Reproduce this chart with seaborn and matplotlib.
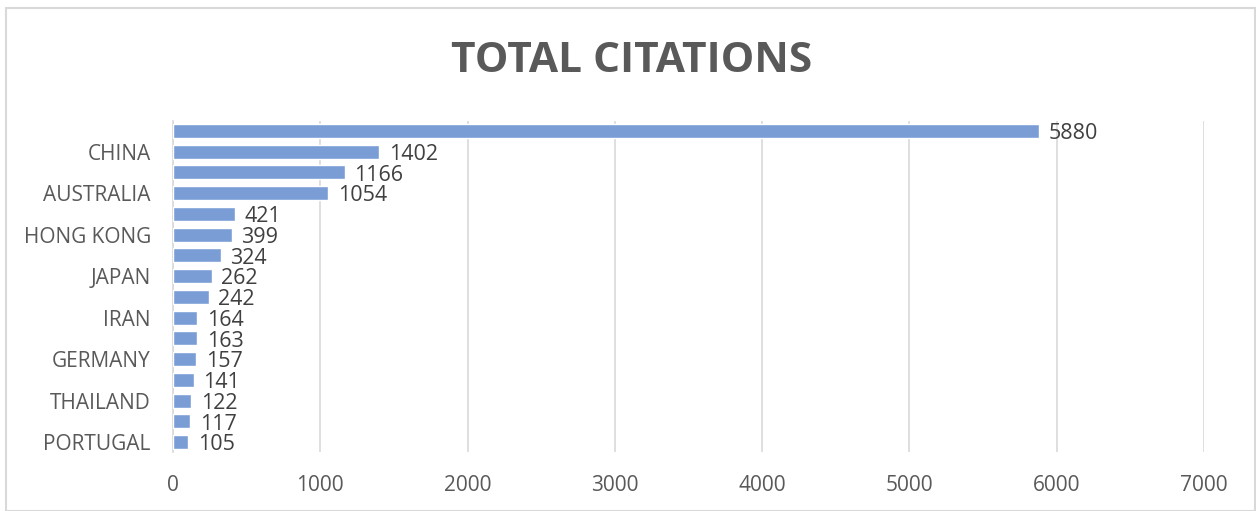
import matplotlib
matplotlib.use("Agg")
import matplotlib.pyplot as plt
import seaborn as sns
import pandas as pd
from matplotlib.patches import Rectangle

# Data (top to bottom); only every other category label is shown in the chart
rank = [str(i) for i in range(1, 17)]
tick_labels = ["", "CHINA", "", "AUSTRALIA", "", "HONG KONG", "", "JAPAN",
               "", "IRAN", "", "GERMANY", "", "THAILAND", "", "PORTUGAL"]
citations = [5880, 1402, 1166, 1054, 421, 399, 324, 262,
             242, 164, 163, 157, 141, 122, 117, 105]

df = pd.DataFrame({"rank": rank, "citations": citations})

sns.set_theme(style="white")
plt.rcParams['font.family'] = ['Open Sans', 'DejaVu Sans']

fig = plt.figure(figsize=(12.56, 5.11), dpi=100)
ax = fig.add_axes([173/1256, 1-452.4/511, (1204-173)/1256, (452.4-120.6)/511])

sns.barplot(data=df, x="citations", y="rank", orient="h", color="#7A9DD6",
            saturation=1, width=0.68, ax=ax, zorder=3)

ax.set_xlim(0, 7000)
ax.set_ylim(15.5, -0.5)
ax.set_xticks(range(0, 7001, 1000))
ax.set_yticks(range(16))
ax.set_yticklabels(tick_labels)
ax.set_xlabel("")
ax.set_ylabel("")
ax.grid(axis="x", color="#D9D9D9", linewidth=1.2, zorder=0)
ax.grid(axis="y", visible=False)
for s in ["top", "right", "bottom"]:
    ax.spines[s].set_visible(False)
ax.spines["left"].set_color("#D9D9D9")
ax.spines["left"].set_linewidth(1.2)
ax.tick_params(axis="y", length=0, labelsize=15, colors="#595959", pad=16)
ax.tick_params(axis="x", length=0, labelsize=15, colors="#595959", pad=16)

for c in ax.containers:
    texts = ax.bar_label(c, labels=[str(v) for v in citations], padding=7,
                         fontsize=15.5, color="#404040")
    for t in texts:
        x, y = t.xyann
        t.xyann = (x, y - 2)

fig.text(632/1256, 1-62/511, "TOTAL CITATIONS", ha="center", va="center",
         fontsize=30.5, fontweight="bold", color="#595959")

fig.patches.append(Rectangle((6/1256, 0), 1 - 7/1256, 1 - 8/511 , transform=fig.transFigure,
                             fill=False, edgecolor="#D9D9D9", linewidth=1.5))

fig.savefig("out.png", dpi=100, facecolor="white")
